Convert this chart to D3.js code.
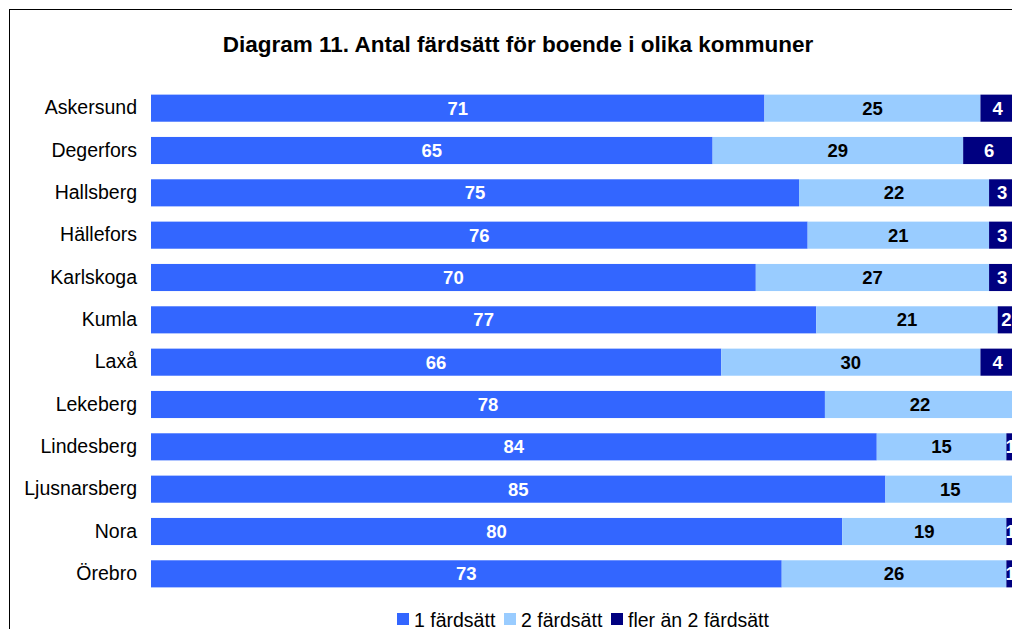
<!DOCTYPE html>
<html>
<head>
<meta charset="utf-8">
<script src="https://cdn.jsdelivr.net/npm/d3@7"></script>
<style>
  body { margin: 0; background: #fff; }
  svg { display: block; font-family: Arial, "Liberation Sans", sans-serif; }
</style>
</head>
<body>
<svg width="1012" height="629"></svg>
<script>
const categories = ['Askersund', 'Degerfors', 'Hallsberg', 'Hällefors', 'Karlskoga', 'Kumla',
    'Laxå', 'Lekeberg', 'Lindesberg', 'Ljusnarsberg', 'Nora', 'Örebro'];
const en = [71, 65, 75, 76, 70, 77, 66, 78, 84, 85, 80, 73];
const tva = [25, 29, 22, 21, 27, 21, 30, 22, 15, 15, 19, 26];
const fler = [4, 6, 3, 3, 3, 2, 4, 0, 1, 0, 1, 1];
const seriesNames = ['1 färdsätt', '2 färdsätt', 'fler än 2 färdsätt'];
const colors = ['#3366FF', '#99CCFF', '#000080'];
const labelColors = ['#fff', '#000', '#fff'];

let svg = d3.select('svg');

// ram runt diagrammet (går utanför bilden till höger/nedåt)
svg.append('rect')
    .attr('x', 9.5).attr('y', 9.5)
    .attr('width', 1100).attr('height', 700)
    .attr('fill', 'none').attr('stroke', '#000').attr('stroke-width', 1);

svg.append('text')
    .attr('x', 518).attr('y', 52)
    .attr('text-anchor', 'middle')
    .style('font-size', '22.5px').style('font-weight', 'bold')
    .text('Diagram 11. Antal färdsätt för boende i olika kommuner');

let rows = categories.map((c, i) => ({ kommun: c, s0: en[i], s1: tva[i], s2: fler[i] }));
let stack = d3.stack().keys(['s0', 's1', 's2'])(rows);

let xScale = d3.scaleLinear().domain([0, 100]).range([151, 1015]);
let yScale = d3.scaleBand().domain(categories).range([87, 595]).paddingInner(0.36).paddingOuter(0.18);

let yAxis = d3.axisLeft(yScale).tickSize(0).tickPadding(14);
let yAxisLayer = svg.append('g')
    .attr('transform', `translate(${xScale(0)},0)`)
    .call(yAxis);
yAxisLayer.select('.domain').remove();
yAxisLayer.selectAll('text')
    .style('font-size', '19.5px').style('font-family', 'Arial, "Liberation Sans", sans-serif')
    .attr('fill', '#000');

let layers = svg.append('g').selectAll('g')
    .data(stack)
    .join('g')
    .attr('fill', (d, i) => colors[i]);

layers.selectAll('rect')
    .data(d => d.filter(p => p[1] - p[0] > 0))
    .join('rect')
    .attr('x', d => xScale(d[0]))
    .attr('y', d => yScale(d.data.kommun))
    .attr('width', d => xScale(d[1]) - xScale(d[0]))
    .attr('height', yScale.bandwidth());

layers.each(function (s, i) {
    d3.select(this).selectAll('text')
        .data(s.filter(p => p[1] - p[0] > 0))
        .join('text')
        .attr('x', d => (xScale(d[0]) + xScale(d[1])) / 2)
        .attr('y', d => yScale(d.data.kommun) + yScale.bandwidth() / 2)
        .attr('dy', '0.36em')
        .attr('text-anchor', 'middle')
        .attr('fill', labelColors[i])
        .style('font-size', '18.5px').style('font-weight', 'bold')
        .text(d => d[1] - d[0]);
});

// legend
let legendX = [397, 504, 611];
let legend = svg.append('g').selectAll('g')
    .data(seriesNames)
    .join('g')
    .attr('transform', (d, i) => `translate(${legendX[i]},613)`);
legend.append('rect')
    .attr('width', 12).attr('height', 12)
    .attr('fill', (d, i) => colors[i]);
legend.append('text')
    .attr('x', 17).attr('y', 14)
    .style('font-size', '19.5px')
    .text(d => d);
</script>
</body>
</html>
